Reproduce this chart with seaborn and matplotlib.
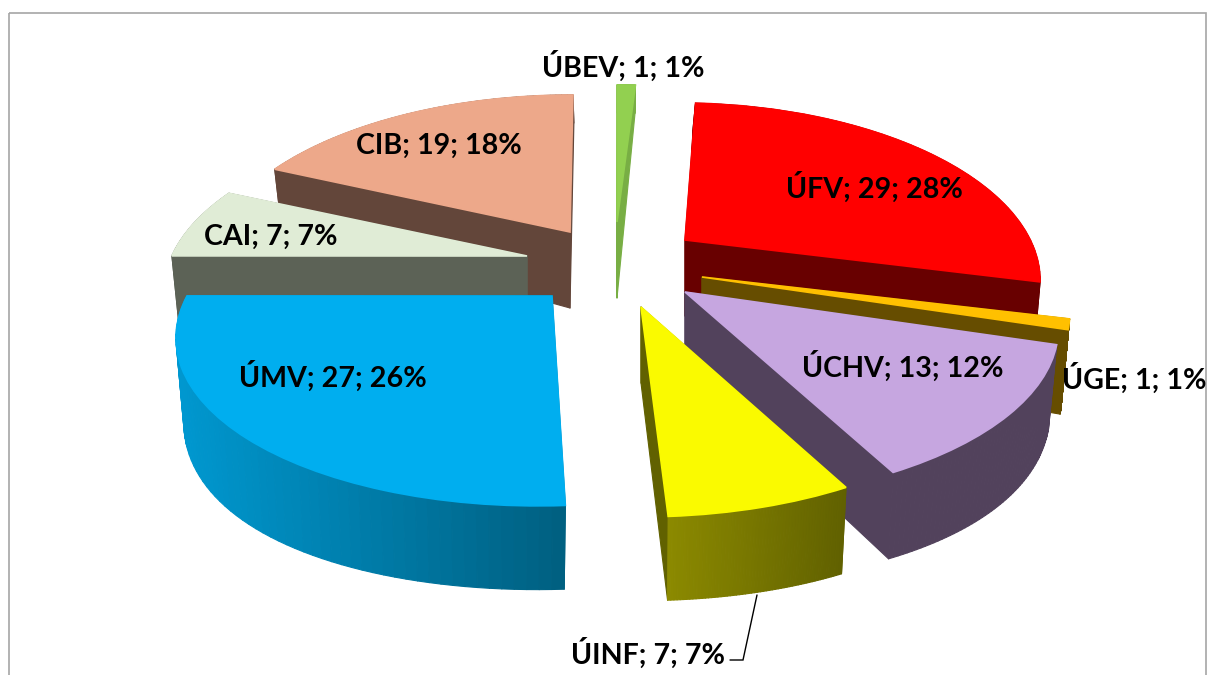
import numpy as np
import matplotlib
matplotlib.use("Agg")
import matplotlib.pyplot as plt
import seaborn as sns
from matplotlib.transforms import Transform
from matplotlib.collections import PolyCollection
from matplotlib.patches import Rectangle
from matplotlib.colors import to_rgb

# ---- data ----
units = ["ÚFV", "ÚGE", "ÚCHV", "ÚINF", "ÚMV", "CAI", "CIB", "ÚBEV"]
counts = [29, 1, 13, 7, 27, 7, 19, 1]

# ---- styles ----
top_colors = ["#ff0000", "#ffc000", "#c6a6e0", "#fafa00", "#00aeef", "#e0ecd6", "#eda88a", "#92d050"]
wall_left = ["#680000", "#664d00", "#52425c", "#8c8a00", "#0098d0", "#5c6256", "#63463a", "#78ae44"]
wall_right = ["#680000", "#664d00", "#52425c", "#616100", "#005f80", "#5c6256", "#63463a", "#78ae44"]

# ---- layout: screen position of each exploded slice's tip, paint order, label centres ----
tips = {"ÚFV": (685, 240), "ÚGE": (702, 277), "ÚCHV": (685, 292), "ÚINF": (641, 307),
        "ÚMV": (552, 296), "CAI": (527, 256), "CIB": (570, 232), "ÚBEV": (617, 222)}
widths = {"ÚFV": 0.946, "ÚGE": 0.985, "ÚCHV": 1, "ÚINF": 0.985, "ÚMV": 1, "CAI": 0.973, "CIB": 0.968, "ÚBEV": 1}
shears = {"ÚFV": -0.05, "ÚGE": 0, "ÚCHV": 0, "ÚINF": 0, "ÚMV": 0.068, "CAI": 0, "CIB": 0.02, "ÚBEV": 0}
paint = {"ÚBEV": 1, "CIB": 2, "CAI": 3, "ÚMV": 4, "ÚFV": 5, "ÚGE": 6, "ÚCHV": 7, "ÚINF": 8}
label_at = {"ÚFV": (874, 187), "ÚGE": (1134, 378), "ÚCHV": (903, 366), "ÚINF": (648, 653),
            "ÚMV": (333, 376), "CAI": (271, 237), "CIB": (439, 146), "ÚBEV": (623, 66)}
START_OFFSET = 3.5     # degrees clockwise from 12 o'clock


class Tilted(Transform):
    """Perspective view of the unit disc; level 0 = top face, 1 = bottom face."""
    input_dims = 2
    output_dims = 2

    def __init__(self, name, level=0.0):
        super().__init__()
        self.tip = tips[name]
        self.shear = shears[name]
        self.a = 365 * widths[name] * (1 - 0.022 * level)
        self.b = 165.8 + (200 - 165.8) * level
        self.kx = 0.21
        self.ky = 0.21 + (0.081 - 0.21) * level
        self.drop = 76 * level

    def transform_non_affine(self, pts):
        pts = np.asarray(pts, float)
        up = self.b * pts[:, 1] / (1 + self.ky * pts[:, 1])
        across = self.a * pts[:, 0] / (1 + self.kx * pts[:, 1])
        return np.column_stack([self.tip[0] + across + self.shear * up,
                                self.tip[1] - up + self.drop])


sns.set_theme(style="white")
plt.rcParams["font.family"] = ["Lato", "DejaVu Sans"]
fig = plt.figure(figsize=(12.07, 6.75), dpi=100, facecolor="white")
ax = fig.add_axes([0, 0, 1, 1])

wedges, _ = ax.pie(counts, colors=sns.color_palette(top_colors), startangle=90 - START_OFFSET,
                   counterclock=False, radius=1, wedgeprops={"linewidth": 1.2})
ax.set_aspect("auto")
ax.set_xlim(0, 1207)
ax.set_ylim(675, 0)
ax.axis("off")

for name, wedge, c0, c1 in zip(units, wedges, wall_left, wall_right):
    z = paint[name]
    top = Tilted(name, 0.0)
    bot = Tilted(name, 1.0)
    th = np.radians(np.linspace(wedge.theta1, wedge.theta2, 60))
    rim = np.column_stack([np.cos(th), np.sin(th)])
    rt, rb = top.transform(rim), bot.transform(rim)
    centre = np.zeros((1, 2))
    polys, cols = [], []
    # radial end walls
    for i in (0, -1):
        polys.append([top.transform(centre)[0], rt[i], rb[i], bot.transform(centre)[0]])
        cols.append(to_rgb(c1))
    # outer wall with a left-to-right shade
    xs = rt[:, 0]
    span = max(xs.max() - xs.min(), 1)
    for i in range(len(th) - 1):
        polys.append([rt[i], rt[i + 1], rb[i + 1], rb[i]])
        f = (0.5 * (xs[i] + xs[i + 1]) - xs.min()) / span
        cols.append(tuple((1 - f) * np.array(to_rgb(c0)) + f * np.array(to_rgb(c1))))
    ax.add_collection(PolyCollection(polys, facecolors=cols, edgecolors=cols, linewidths=0.8, zorder=z),
                      autolim=False)
    wedge.set_transform(top + ax.transData)
    wedge.set_edgecolor(wedge.get_facecolor())
    wedge.set_zorder(z + 0.5)

total = sum(counts)
for name, v in zip(units, counts):
    x, y = label_at[name]
    ax.text(x, y, f"{name}; {v}; {round(100 * v / total)}%", ha="center", va="center",
            fontsize=20.6, fontweight="bold", color="black", zorder=20, clip_on=True)

ax.plot([757, 743, 730], [595, 660, 660], color="black", lw=1, zorder=9, solid_joinstyle="miter")
ax.add_patch(Rectangle((9, 13), 1197, 700, fill=False, edgecolor="#a6a6a6", lw=1.2, zorder=0, clip_on=True))

fig.savefig("out.png", dpi=100, facecolor="white")
